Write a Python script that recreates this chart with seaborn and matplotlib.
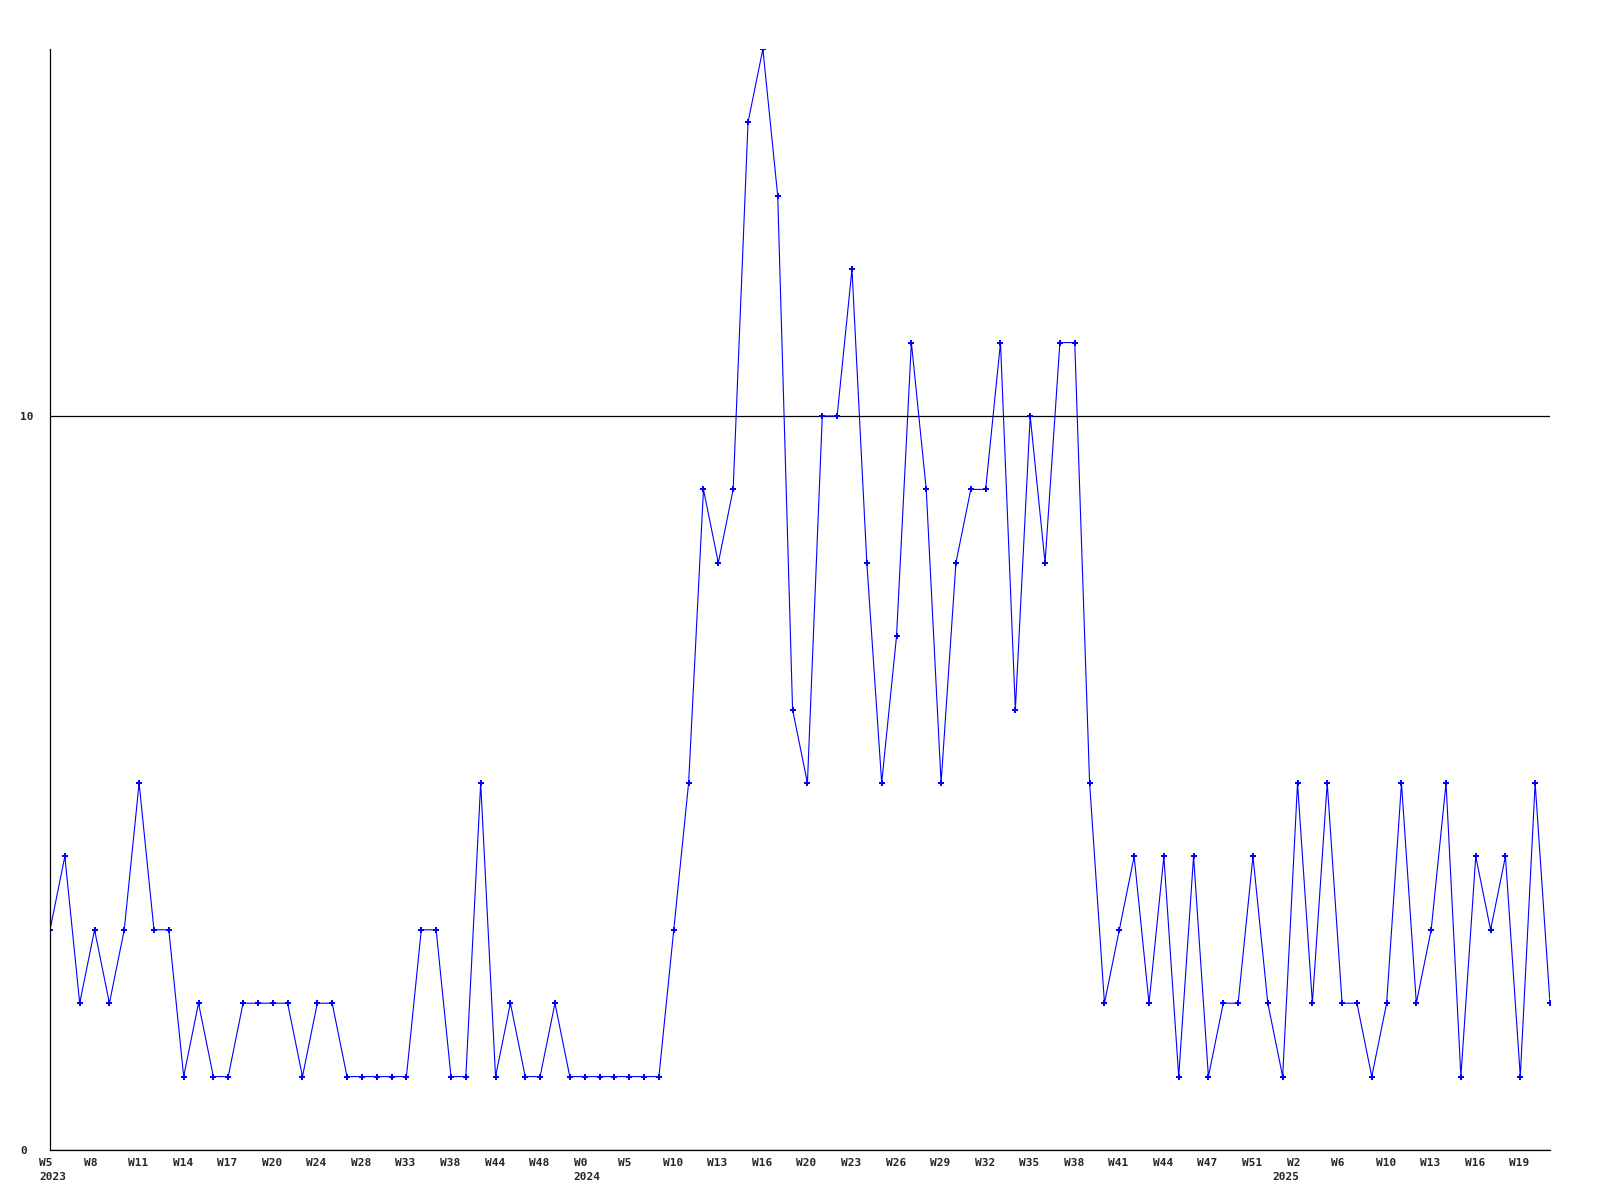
import numpy as np
import matplotlib
matplotlib.use("Agg")
import matplotlib.pyplot as plt
import matplotlib.transforms as mtransforms
import seaborn as sns

# weekly counts
counts = [3, 4, 2, 3, 2, 3, 5, 3, 3, 1,
          2, 1, 1, 2, 2, 2, 2, 1, 2, 2,
          1, 1, 1, 1, 1, 3, 3, 1, 1, 5,
          1, 2, 1, 1, 2, 1, 1, 1, 1, 1,
          1, 1, 3, 5, 9, 8, 9, 14, 15, 13,
          6, 5, 10, 10, 12, 8, 5, 7, 11, 9,
          5, 8, 9, 9, 11, 6, 10, 8, 11, 11,
          5, 2, 3, 4, 2, 4, 1, 4, 1, 2,
          2, 4, 2, 1, 5, 2, 5, 2, 2, 1,
          2, 5, 2, 3, 5, 1, 4, 3, 4, 1,
          5, 2]

week_labels = ["W5", "W8", "W11", "W14", "W17", "W20", "W24", "W28", "W33", "W38",
               "W44", "W48", "W0", "W5", "W10", "W13", "W16", "W20", "W23", "W26",
               "W29", "W32", "W35", "W38", "W41", "W44", "W47", "W51", "W2", "W6",
               "W10", "W13", "W16", "W19"]
year_labels = ["2023", "2024", "2025"]
year_pos = [0, 36, 84]
y_ticks = [0, 10]

sns.set_style("white")
plt.rcParams['font.family'] = ['DejaVu Sans Mono']

fig = plt.figure(figsize=(16, 12), dpi=100)
ax = fig.add_axes([50/1600, 50/1200, 1500/1600, 1101/1200])

x = np.arange(len(counts))
sns.lineplot(x=x, y=counts, ax=ax, color="#0000ff", linewidth=0.8,
             marker="P", markersize=4.5, markeredgewidth=0)

ax.set_xlim(0, len(counts) - 1)
ax.set_ylim(0, 15)

tick_pos = x[::3][:len(week_labels)]
ax.set_xticks(tick_pos)
ax.set_xticklabels(week_labels, fontsize=8, fontweight="bold")
ax.set_yticks(y_ticks)
ax.set_yticklabels([str(v) for v in y_ticks], fontsize=8, fontweight="bold")

ax.tick_params(axis="x", length=0, pad=5.5)
ax.tick_params(axis="y", length=0, pad=21.6)
shift = mtransforms.ScaledTranslation(-11/100, 0, fig.dpi_scale_trans)
for lab in ax.get_xticklabels():
    lab.set_ha("left")
    lab.set_transform(lab.get_transform() + shift)
for lab in ax.get_yticklabels():
    lab.set_ha("left")

# year under the first week of each year
base = mtransforms.blended_transform_factory(ax.transData, ax.transAxes)
for i, (yl, xp) in enumerate(zip(year_labels, year_pos)):
    if i < 2:
        off = mtransforms.ScaledTranslation(-11/100, -22.5/100, fig.dpi_scale_trans)
        ha = "left"
    else:
        off = mtransforms.ScaledTranslation(1.5/100, -22.5/100, fig.dpi_scale_trans)
        ha = "right"
    ax.text(xp, 0, yl, transform=base + off, ha=ha, va="top",
            fontsize=8, fontweight="bold")

ax.yaxis.grid(True, color="black", linewidth=0.9)
ax.xaxis.grid(False)
ax.set_axisbelow(True)
for side in ["top", "right"]:
    ax.spines[side].set_visible(False)
for side in ["left", "bottom"]:
    ax.spines[side].set_color("black")
    ax.spines[side].set_linewidth(0.9)
ax.set_xlabel("")
ax.set_ylabel("")

fig.savefig("out.png", dpi=100, facecolor="white")
